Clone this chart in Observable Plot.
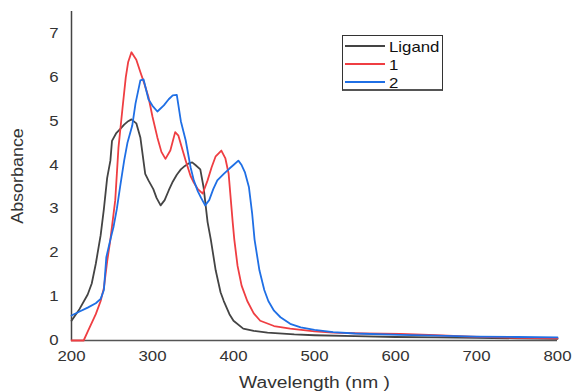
<!DOCTYPE html>
<html>
<head>
<meta charset="utf-8">
<script src="https://cdn.jsdelivr.net/npm/d3@7"></script>
<script src="https://cdn.jsdelivr.net/npm/@observablehq/plot@0.6"></script>
<style>
  html, body { margin: 0; padding: 0; background: white; }
  #wrap { position: relative; width: 572px; height: 391px; }
  #legend { position: absolute; left: 342px; top: 35px; width: 101px; height: 56px;
    border: 1px solid #333; border-bottom: 2px solid #555; background: white; box-sizing: border-box;
    font-family: "Liberation Sans", Arial, sans-serif; font-size: 15px; color: #111; }
  #legend .row { position: absolute; left: 2px; height: 18px; display: flex; align-items: center; }
  #legend .sw { width: 40px; height: 0; border-top: 2px solid; margin-right: 4px; }
  #legend .lb { display: inline-block; transform: scaleX(1.12); transform-origin: left center; }
</style>
</head>
<body>
<div id="wrap"><div id="legend"></div></div>
<script>
const seriesNames = ["Ligand", "1", "2"];
const seriesColors = ["#444444", "#ef3e42", "#1f6fe5"];

const ligandWl = [200,210,220,225,230,236,240,244,248,250,255,260,265,270,274,280,285,291,295,301,305,310,315,320,325,330,335,340,345,349,353,359,363,368,372,378,384,388,395,400,412,425,442,475,500,550,600,650,700,750,800];
const ligandAbs = [0.45,0.72,1.05,1.3,1.75,2.4,3.0,3.7,4.1,4.55,4.72,4.82,4.92,5.0,5.04,4.95,4.63,3.8,3.65,3.45,3.25,3.08,3.2,3.42,3.62,3.78,3.9,3.98,4.04,4.06,4.0,3.9,3.5,2.7,2.3,1.6,1.1,0.9,0.6,0.45,0.27,0.22,0.18,0.14,0.12,0.1,0.08,0.07,0.06,0.05,0.04];

const c1Wl = [200,215,220,230,236,240,244,248,254,258,263,267,270,274,280,285,290,295,300,306,311,316,322,328,332,337,341,347,351,356,362,368,373,378,385,390,394,399,401,405,410,417,425,433,450,470,500,523,560,606,650,693,750,800];
const c1Abs = [0,0,0.2,0.6,0.9,1.2,1.8,2.3,3.2,4.4,5.3,6.0,6.35,6.57,6.4,6.12,5.85,5.55,5.1,4.63,4.3,4.14,4.33,4.75,4.67,4.35,4.1,3.75,3.6,3.45,3.35,3.65,3.95,4.2,4.33,4.15,3.8,2.7,2.3,1.7,1.25,0.9,0.62,0.45,0.33,0.27,0.21,0.18,0.16,0.15,0.12,0.09,0.06,0.05];

const c2Wl = [200,210,220,230,236,240,243,248,252,256,260,265,269,275,279,285,289,295,300,306,314,320,325,330,335,341,347,351,356,360,365,370,375,380,388,395,400,406,410,414,419,423,426,432,438,443,450,458,470,483,500,523,550,606,650,700,750,800];
const c2Abs = [0.57,0.66,0.75,0.85,0.95,1.15,1.9,2.3,2.6,3.0,3.5,4.1,4.5,4.9,5.4,5.93,5.95,5.5,5.35,5.22,5.36,5.5,5.59,5.6,5.0,4.56,3.95,3.65,3.4,3.25,3.08,3.2,3.45,3.65,3.8,3.92,4.0,4.1,4.0,3.84,3.5,2.9,2.3,1.6,1.15,0.9,0.68,0.53,0.38,0.3,0.24,0.19,0.16,0.13,0.11,0.09,0.08,0.07];

const xTicks = [200,300,400,500,600,700,800];
const yTicks = [0,1,2,3,4,5,6,7];

const toRows = (wl, ab, name) => wl.map((w, i) => ({wl: w, abs: ab[i], series: name}));
const data = [
  ...toRows(ligandWl, ligandAbs, "Ligand"),
  ...toRows(c1Wl, c1Abs, "1"),
  ...toRows(c2Wl, c2Abs, "2")
];

const chart = Plot.plot({
  width: 572, height: 391,
  marginLeft: 71, marginRight: 15, marginTop: 11, marginBottom: 51,
  style: { fontFamily: "'Liberation Sans', Arial, sans-serif", fontSize: "14px", color: "#333", background: "white" },
  x: { domain: [200, 800] },
  y: { domain: [0, 7.5] },
  color: { domain: seriesNames, range: seriesColors },
  marks: [
    Plot.axisX({ ticks: xTicks, tickSize: 0, tickPadding: 11, fontSize: 14, label: null }),
    Plot.axisX({ ticks: [], tickSize: 0, fontSize: 16, label: "Wavelength (nm )", labelAnchor: "center", labelArrow: "none", labelOffset: 47 }),
    Plot.axisY({ ticks: yTicks, tickSize: 0, tickPadding: 13, fontSize: 14, label: null }),
    Plot.axisY({ ticks: [], tickSize: 0, fontSize: 16, label: "Absorbance", labelAnchor: "center", labelArrow: "none", labelOffset: 60 }),
    Plot.ruleX([200], { stroke: "#444", strokeWidth: 1.5 }),
    Plot.ruleY([0], { stroke: "#555", strokeWidth: 1.5 }),
    Plot.line(data, { x: "wl", y: "abs", z: "series", stroke: "series", strokeWidth: 1.8 })
  ]
});
document.getElementById("wrap").prepend(chart);

// horizontal stretch of text, like the reference rendering
function stretch(sel, k) {
  d3.select(chart).selectAll(sel).each(function () {
    const L = this.getComputedTextLength();
    if (L > 0) { this.setAttribute("textLength", L * k); this.setAttribute("lengthAdjust", "spacingAndGlyphs"); }
  });
}
stretch('g[aria-label="x-axis tick label"] text', 1.2);
stretch('g[aria-label="y-axis tick label"] text', 1.2);
stretch('g[aria-label="x-axis label"] text', 1.2);
stretch('g[aria-label="y-axis label"] text', 1.12);

const legend = document.getElementById("legend");
seriesNames.forEach((n, i) => {
  const row = document.createElement("div");
  row.className = "row";
  row.style.top = (1 + i * 18) + "px";
  row.innerHTML = `<span class="sw" style="border-color:${seriesColors[i]}"></span><span class="lb">${n}</span>`;
  legend.appendChild(row);
});
</script>
</body>
</html>
